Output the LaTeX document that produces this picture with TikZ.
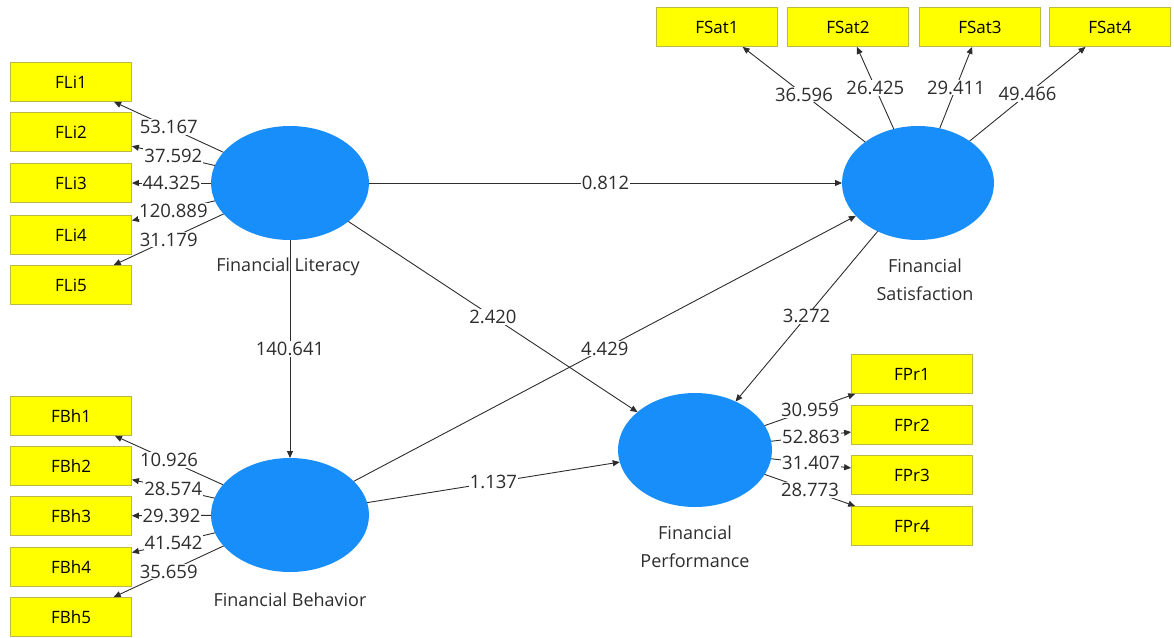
\documentclass[tikz,border=0pt]{standalone}
\usepackage{fontspec}
\setmainfont{Open Sans}
\usetikzlibrary{shapes.geometric,arrows.meta}
\definecolor{latentblue}{RGB}{24,142,250}
\definecolor{boxyellow}{RGB}{255,255,0}
\definecolor{boxedge}{RGB}{185,185,70}
\definecolor{linegray}{RGB}{45,45,45}
\tikzset{
  latent/.style={ellipse, fill=latentblue, minimum width=158pt, minimum height=114pt, inner sep=0pt, outer sep=0pt},
  indicator/.style={rectangle, fill=boxyellow, draw=boxedge, line width=0.8pt, minimum width=121pt, minimum height=39pt, font=\fontsize{17}{20}\selectfont},
  link/.style={draw=linegray, line width=0.9pt, -{Triangle[length=7pt,width=6pt]}},
  coef/.style={fill=white, inner sep=1pt, text=linegray, font=\fontsize{18.5}{22}\selectfont},
  lvname/.style={text=linegray, align=center, font=\fontsize{18}{28}\selectfont}
}
\begin{document}
\begin{tikzpicture}[x=1pt,y=-1pt]
\useasboundingbox (0,0) rectangle (1174,637);

\node[latent] (FL) at (290,183) {};
\node[latent] (FB) at (290,515) {};
\node[latent, minimum width=152pt] (FS) at (918,183) {};
\node[latent, minimum width=154pt] (FP) at (695,450) {};

\node[lvname] (FLname) at (288,267) {Financial Literacy};
\node[lvname] (FBname) at (290,600) {Financial Behavior};
\node[lvname] (FSname) at (925,280) {Financial\\Satisfaction};
\node[lvname] (FPname) at (695,547) {Financial\\Performance};

\node[indicator] (FLi1) at (71,82) {FLi1};
\node[indicator] (FLi2) at (71,132) {FLi2};
\node[indicator] (FLi3) at (71,183) {FLi3};
\node[indicator] (FLi4) at (71,235) {FLi4};
\node[indicator] (FLi5) at (71,285) {FLi5};

\node[indicator] (FBh1) at (71,416) {FBh1};
\node[indicator] (FBh2) at (71,466) {FBh2};
\node[indicator] (FBh3) at (71,516) {FBh3};
\node[indicator] (FBh4) at (71,567) {FBh4};
\node[indicator] (FBh5) at (71,617) {FBh5};

\node[indicator] (FSat1) at (717,27) {FSat1};
\node[indicator] (FSat2) at (848,27) {FSat2};
\node[indicator] (FSat3) at (980,27) {FSat3};
\node[indicator] (FSat4) at (1110,27) {FSat4};

\node[indicator] (FPr1) at (912,374) {FPr1};
\node[indicator] (FPr2) at (912,425) {FPr2};
\node[indicator] (FPr3) at (912,475) {FPr3};
\node[indicator] (FPr4) at (912,526) {FPr4};

% outer loadings
\draw[link] (FL) -- node[coef] {53.167} (FLi1);
\draw[link] (FL) -- node[coef] {37.592} (FLi2);
\draw[link] (FL) -- node[coef] {44.325} (FLi3);
\draw[link] (FL) -- node[coef] {120.889} (FLi4);
\draw[link] (FL) -- node[coef] {31.179} (FLi5);

\draw[link] (FB) -- node[coef] {10.926} (FBh1);
\draw[link] (FB) -- node[coef] {28.574} (FBh2);
\draw[link] (FB) -- node[coef] {29.392} (FBh3);
\draw[link] (FB) -- node[coef] {41.542} (FBh4);
\draw[link] (FB) -- node[coef] {35.659} (FBh5);

\draw[link] (FS) -- node[coef] {36.596} (FSat1);
\draw[link] (FS) -- node[coef] {26.425} (FSat2);
\draw[link] (FS) -- node[coef] {29.411} (FSat3);
\draw[link] (FS) -- node[coef] {49.466} (FSat4);

\draw[link] (FP) -- node[coef] {30.959} (FPr1);
\draw[link] (FP) -- node[coef] {52.863} (FPr2);
\draw[link] (FP) -- node[coef] {31.407} (FPr3);
\draw[link] (FP) -- node[coef] {28.773} (FPr4);

% inner model
\draw[link] (FL) -- node[coef] {0.812} (FS);
\draw[link] (FL) -- node[coef] {2.420} (FP);
\draw[link] (FL) -- node[coef] {140.641} (FB);
\draw[link] (FB) -- node[coef] {4.429} (FS);
\draw[link] (FB) -- node[coef] {1.137} (FP);
\draw[link] (FS) -- node[coef] {3.272} (FP);

\end{tikzpicture}
\end{document}
